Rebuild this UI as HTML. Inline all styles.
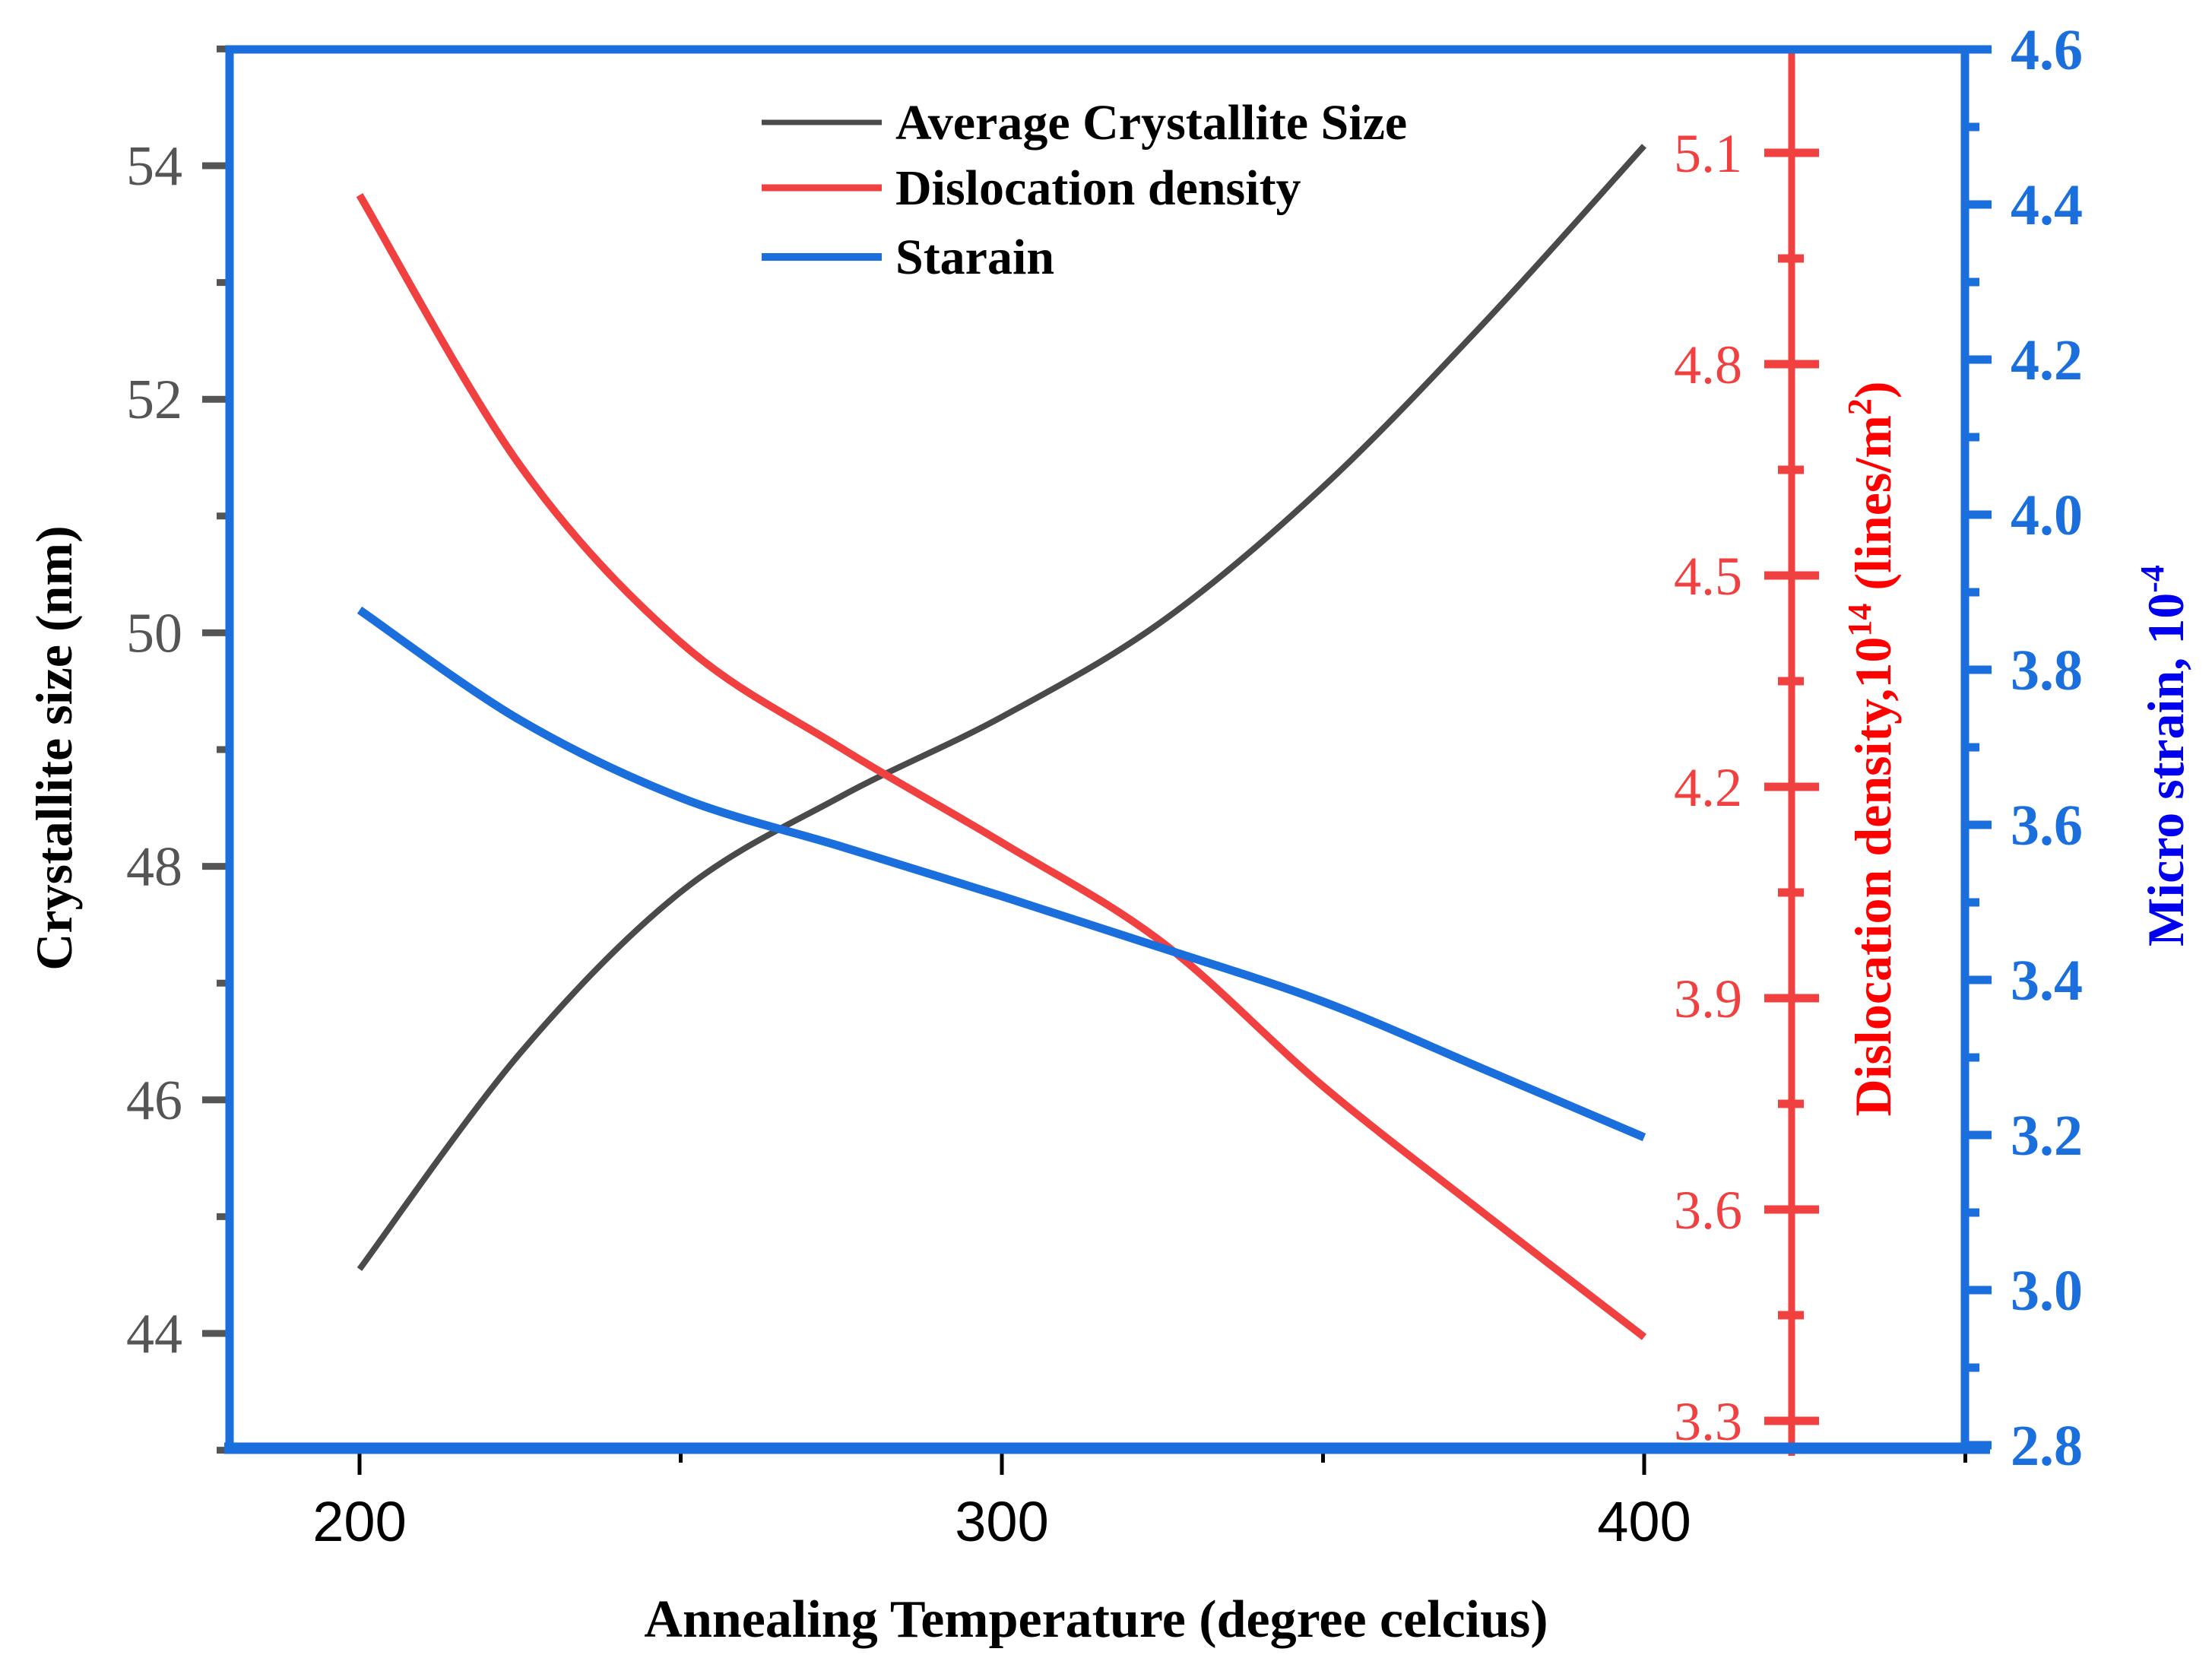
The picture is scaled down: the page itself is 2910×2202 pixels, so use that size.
<!DOCTYPE html>
<html><head><meta charset="utf-8"><style>
html,body{margin:0;padding:0;background:#fff;}
svg{display:block;}
text{font-family:"Liberation Serif",serif;}
</style></head><body>
<svg id="chart" width="2910" height="2202" viewBox="0 0 2910 2202" xmlns="http://www.w3.org/2000/svg">
<g id="marks"></g>
</svg>
<script>
const temps = [200, 225, 250, 275, 300, 325, 350, 375, 400];
const crystalliteSize = [44.55, 46.4, 47.78, 48.6, 49.28, 50.1, 51.25, 52.65, 54.17];
const dislocationDensity = [5.04, 4.656, 4.405, 4.255, 4.121, 3.979, 3.775, 3.595, 3.419];
const microStrain = [3.877, 3.735, 3.635, 3.572, 3.508, 3.441, 3.372, 3.285, 3.197];
const xTicks = [200, 300, 400];
const xMinorTicks = [250, 350, 450];
const leftTicks = [44, 46, 48, 50, 52, 54];
const leftMinor = [43, 45, 47, 49, 51, 53, 55];
const redTicks = [3.3, 3.6, 3.9, 4.2, 4.5, 4.8, 5.1];
const redMinor = [3.45, 3.75, 4.05, 4.35, 4.65, 4.95];
const blueTicks = [2.8, 3.0, 3.2, 3.4, 3.6, 3.8, 4.0, 4.2, 4.4, 4.6];
const blueMinor = [2.9, 3.1, 3.3, 3.5, 3.7, 3.9, 4.1, 4.3, 4.5];

const L = 302, R = 2585, T = 65, B = 1905;
const X = v => 473 + (v - 200) * 8.45;
const YL = v => 218 + (54 - v) * 153.6;
const YR = v => 201 + (5.1 - v) * 926.7;
const YB = v => 65 + (4.6 - v) * 1020;

const NS = 'http://www.w3.org/2000/svg';
const g = document.getElementById('marks');
function el(tag, attrs, parent) {
  const e = document.createElementNS(NS, tag);
  for (const k in attrs) e.setAttribute(k, attrs[k]);
  (parent || g).appendChild(e);
  return e;
}
function txt(s, attrs) { const t = el('text', attrs); t.textContent = s; return t; }

function smooth(xs, ys) {
  const p = xs.map((x, i) => [x, ys[i]]);
  let d = 'M' + p[0][0] + ',' + p[0][1];
  for (let i = 0; i < p.length - 1; i++) {
    const p0 = p[i - 1] || p[i], p1 = p[i], p2 = p[i + 1], p3 = p[i + 2] || p2;
    const c1 = [p1[0] + (p2[0] - p0[0]) / 6, p1[1] + (p2[1] - p0[1]) / 6];
    const c2 = [p2[0] - (p3[0] - p1[0]) / 6, p2[1] - (p3[1] - p1[1]) / 6];
    d += ' C' + c1[0] + ',' + c1[1] + ' ' + c2[0] + ',' + c2[1] + ' ' + p2[0] + ',' + p2[1];
  }
  return d;
}

leftTicks.forEach(v => {
  const l = el('line', {x1: 266, x2: 302, y1: YL(v), y2: YL(v), stroke: '#555', 'stroke-width': 9});
  
  
  const t = txt(String(v), {x: 240, y: YL(v) + 25, 'text-anchor': 'end', 'font-size': 74, fill: '#555'});
  
  
});
leftMinor.forEach(v => {
  const l = el('line', {x1: 285, x2: 302, y1: YL(v), y2: YL(v), stroke: '#555', 'stroke-width': 9});
  
  
});
xTicks.forEach(v => {
  const l = el('line', {x1: X(v), x2: X(v), y1: 1905, y2: 1940, stroke: '#000', 'stroke-width': 5});
  
  
  const t = txt(String(v), {x: X(v), y: 2027, 'text-anchor': 'middle', 'font-size': 74, fill: '#000', style: 'font-family:"Liberation Sans",sans-serif'});
  
  
});
xMinorTicks.forEach(v => {
  const l = el('line', {x1: X(v), x2: X(v), y1: 1905, y2: 1924, stroke: '#000', 'stroke-width': 5});
  
  
});
const ra = el('line', {x1: 2357, x2: 2357, y1: T, y2: 1915, stroke: '#f04040', 'stroke-width': 9});


redTicks.forEach(v => {
  const l = el('line', {x1: 2321, x2: 2393, y1: YR(v), y2: YR(v), stroke: '#f04040', 'stroke-width': 11});
  
  
  const t = txt(v.toFixed(1), {x: 2292, y: YR(v) + 25, 'text-anchor': 'end', 'font-size': 72, fill: '#f04040'});
  
  
});
redMinor.forEach(v => {
  const l = el('line', {x1: 2339, x2: 2373, y1: YR(v), y2: YR(v), stroke: '#f04040', 'stroke-width': 11});
  
  
});
blueTicks.forEach(v => {
  const l = el('line', {x1: 2585, x2: 2620, y1: YB(v), y2: YB(v), stroke: '#1a6fdc', 'stroke-width': 11});
  
  
  const t = txt(v.toFixed(1), {x: 2645, y: YB(v) + 26, 'font-size': 76, 'font-weight': 'bold', fill: '#1a6fdc'});
  
  
});
blueMinor.forEach(v => {
  const l = el('line', {x1: 2585, x2: 2604, y1: YB(v), y2: YB(v), stroke: '#1a6fdc', 'stroke-width': 11});
  
  
});
const fr = el('path', {d: 'M' + L + ',' + B + ' V' + T + ' H' + R + ' V' + B, fill: 'none', stroke: '#1a6fdc', 'stroke-width': 11});


const bx = el('line', {x1: 295, x2: 2618, y1: 1905, y2: 1905, stroke: '#1a6fdc', 'stroke-width': 15});



const xs = temps.map(X);
const s1 = el('path', {d: smooth(xs, crystalliteSize.map(YL)), fill: 'none', stroke: '#4a4a4a', 'stroke-width': 8});


const s2 = el('path', {d: smooth(xs, dislocationDensity.map(YR)), fill: 'none', stroke: '#f04040', 'stroke-width': 10});


const s3 = el('path', {d: smooth(xs, microStrain.map(YB)), fill: 'none', stroke: '#1a6fdc', 'stroke-width': 11});



const legend = [['Average Crystallite Size', '#4a4a4a', 161, 7], ['Dislocation density', '#f04040', 247, 9], ['Starain', '#1a6fdc', 338, 10]];
legend.forEach(([name, c, y, w]) => {
  const l = el('line', {x1: 1002, x2: 1160, y1: y, y2: y, stroke: c, 'stroke-width': w});
  
  
  const t = txt(name, {x: 1178, y: y + 22, 'font-size': 66, 'font-weight': 'bold', fill: '#000'});
  
  
});

const xt = txt('Annealing Temperature (degree celcius)', {x: 1442, y: 2153, 'text-anchor': 'middle', 'font-size': 70, 'font-weight': 'bold', fill: '#000'});


const yt = txt('Crystallite size (nm)', {x: 0, y: 0, 'text-anchor': 'middle', 'font-size': 68, 'font-weight': 'bold', fill: '#000', transform: 'translate(94,984) rotate(-90)'});


const rt = el('text', {x: 0, y: 0, 'text-anchor': 'middle', 'font-size': 68, 'font-weight': 'bold', fill: '#ff0000', transform: 'translate(2487,985) rotate(-90)'});
rt.innerHTML = 'Dislocation density,10<tspan dy="-26" font-size="44">14</tspan><tspan dy="26"> (lines/m</tspan><tspan dy="-26" font-size="44">2</tspan><tspan dy="26">)</tspan>';


const bt = el('text', {x: 0, y: 0, 'text-anchor': 'middle', 'font-size': 68, 'font-weight': 'bold', fill: '#0000ee', transform: 'translate(2872,994) rotate(-90)'});
bt.innerHTML = 'Micro strain, 10<tspan dy="-26" font-size="44">-4</tspan>';


</script>
</body></html>
